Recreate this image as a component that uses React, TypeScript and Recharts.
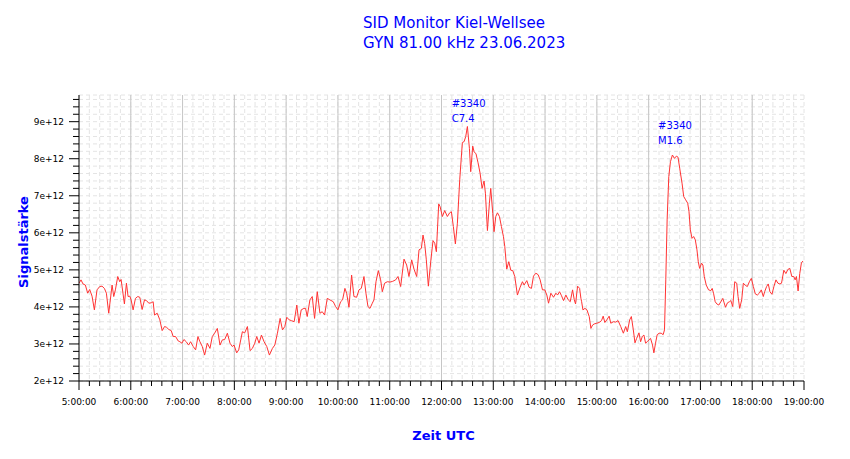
import React from 'react';
import {
  LineChart,
  Line,
  XAxis,
  YAxis,
  CartesianGrid,
  ReferenceLine,
  ReferenceDot,
  Customized,
} from 'recharts';

// time in decimal hours (UTC), signal strength in units of 1e12
const morning: [number, number][] = [
  [5.0, 4.64], [5.039, 4.73], [5.077, 4.62], [5.123, 4.59], [5.168, 4.37], [5.206, 4.47],
  [5.252, 4.29], [5.297, 3.92], [5.348, 4.46], [5.4, 4.55], [5.445, 4.56], [5.49, 4.5],
  [5.529, 4.37], [5.574, 3.83], [5.639, 4.59], [5.671, 4.28], [5.703, 4.46], [5.748, 4.82],
  [5.787, 4.68], [5.813, 4.74], [5.877, 4.08], [5.916, 4.64], [5.948, 4.28], [5.981, 4.29],
  [6.006, 4.19], [6.045, 3.92], [6.09, 4.23], [6.135, 4.28], [6.174, 4.26], [6.219, 3.93],
  [6.265, 4.19], [6.303, 4.17], [6.348, 4.1], [6.394, 4.11], [6.432, 4.14], [6.458, 3.78],
  [6.51, 3.83], [6.561, 3.65], [6.606, 3.36], [6.652, 3.47], [6.69, 3.45], [6.735, 3.39],
  [6.781, 3.36], [6.819, 3.2], [6.865, 3.2], [6.916, 3.08], [6.948, 3.06], [6.987, 3.02],
  [7.026, 3.12], [7.071, 3.06], [7.116, 2.97], [7.155, 3.06], [7.206, 2.93], [7.252, 2.84],
  [7.297, 3.2], [7.335, 3.06], [7.381, 2.93], [7.426, 2.7], [7.477, 3.02], [7.529, 2.88],
  [7.574, 3.2], [7.619, 3.29], [7.671, 3.42], [7.723, 2.97], [7.768, 3.11], [7.813, 3.12],
  [7.865, 3.29], [7.916, 3.02], [7.961, 2.93], [7.994, 2.97], [8.045, 2.76], [8.084, 2.84],
  [8.123, 3.11], [8.155, 3.33], [8.2, 3.3], [8.252, 3.47], [8.303, 2.82], [8.348, 2.88],
  [8.394, 3.02], [8.432, 3.2], [8.477, 3.02], [8.523, 3.24], [8.574, 3.06], [8.626, 2.93],
  [8.677, 2.7], [8.735, 2.88], [8.781, 2.97], [8.832, 3.29], [8.884, 3.69], [8.929, 3.38],
  [8.974, 3.47], [9.013, 3.72], [9.058, 3.65], [9.103, 3.63], [9.155, 3.6], [9.206, 4.05],
];

const midday: [number, number][] = [
  [9.246, 3.56], [9.291, 3.92], [9.343, 3.96], [9.375, 3.96], [9.407, 3.74], [9.459, 4.19],
  [9.504, 4.28], [9.549, 3.69], [9.601, 4.41], [9.652, 3.83], [9.697, 3.87], [9.742, 3.78],
  [9.794, 4.23], [9.845, 4.19], [9.91, 4.14], [9.955, 4.01], [10.0, 3.92], [10.052, 4.14],
  [10.09, 4.19], [10.135, 4.5], [10.168, 4.37], [10.213, 3.99], [10.264, 4.86], [10.309, 4.28],
  [10.361, 4.26], [10.406, 4.46], [10.451, 4.5], [10.503, 4.82], [10.541, 4.37], [10.58, 4.01],
  [10.619, 3.96], [10.664, 4.1], [10.696, 4.19], [10.735, 4.68], [10.78, 4.98], [10.825, 4.73],
  [10.857, 4.41], [10.902, 4.64], [10.954, 4.68], [11.005, 4.67], [11.057, 4.69], [11.115, 4.73],
  [11.16, 4.82], [11.211, 4.55], [11.276, 5.29], [11.327, 5.13], [11.372, 4.82], [11.424, 5.27],
  [11.469, 5.02], [11.521, 4.82], [11.566, 5.54], [11.611, 5.58], [11.643, 5.94], [11.675, 5.71],
  [11.707, 5.27], [11.746, 4.56], [11.791, 5.21], [11.836, 5.79], [11.869, 5.72], [11.901, 5.49],
  [11.946, 6.78], [11.972, 6.71], [12.017, 6.44], [12.062, 6.6], [12.113, 6.44], [12.158, 6.54],
  [12.191, 6.57], [12.229, 6.17], [12.268, 5.7], [12.307, 6.26], [12.352, 7.43], [12.403, 8.44],
  [12.436, 8.46], [12.468, 8.6], [12.5, 8.87], [12.539, 8.28], [12.564, 7.65], [12.603, 8.34],
  [12.629, 8.19], [12.667, 8.13], [12.706, 7.89], [12.745, 7.61], [12.784, 7.2], [12.822, 7.4],
  [12.848, 7.07], [12.887, 6.06], [12.925, 6.8], [12.951, 7.2], [12.99, 6.52], [13.015, 6.03],
  [13.048, 6.44], [13.08, 6.54], [13.119, 6.44], [13.157, 6.17], [13.196, 5.9], [13.222, 5.63],
  [13.26, 5.02], [13.299, 5.22], [13.338, 4.99], [13.376, 4.98], [13.415, 4.82], [13.466, 4.32],
  [13.518, 4.53], [13.563, 4.68], [13.595, 4.59], [13.647, 4.71], [13.692, 4.53], [13.737, 4.5],
  [13.776, 4.83], [13.822, 4.91], [13.866, 4.87], [13.905, 4.73], [13.95, 4.46], [13.995, 4.46],
  [14.034, 4.32], [14.067, 4.1], [14.112, 4.37], [14.163, 4.26], [14.209, 4.37], [14.241, 4.32],
  [14.28, 4.41], [14.318, 4.3], [14.357, 4.17], [14.402, 4.32], [14.448, 4.19], [14.486, 4.14],
  [14.531, 4.46], [14.564, 4.19], [14.589, 4.08], [14.628, 4.56], [14.667, 4.5], [14.692, 4.23],
];

const afternoon: [number, number][] = [
  [14.706, 4.14], [14.731, 3.92], [14.77, 3.96], [14.808, 3.92], [14.853, 3.74], [14.885, 3.42],
  [14.917, 3.51], [14.949, 3.54], [15.0, 3.56], [15.045, 3.58], [15.09, 3.63], [15.122, 3.75],
  [15.154, 3.58], [15.192, 3.65], [15.237, 3.75], [15.269, 3.56], [15.32, 3.6], [15.365, 3.59],
  [15.41, 3.63], [15.461, 3.47], [15.512, 3.29], [15.557, 3.47], [15.589, 3.33], [15.634, 3.65],
  [15.666, 3.74], [15.704, 3.38], [15.736, 3.03], [15.768, 3.15], [15.813, 3.3], [15.845, 3.06],
  [15.877, 3.2], [15.909, 3.24], [15.941, 3.02], [15.973, 3.06], [16.005, 3.11], [16.037, 3.15],
  [16.075, 2.97], [16.101, 2.76], [16.133, 3.02], [16.165, 3.25], [16.203, 3.29], [16.242, 3.29],
  [16.28, 3.25], [16.306, 3.38], [16.331, 4.73], [16.357, 6.35], [16.389, 7.52], [16.421, 7.92],
  [16.459, 8.1], [16.498, 8.01], [16.536, 8.07], [16.568, 8.04], [16.6, 7.74], [16.645, 7.34],
  [16.677, 6.98], [16.715, 6.89], [16.754, 6.8], [16.779, 6.58], [16.805, 6.08], [16.837, 5.85],
  [16.869, 5.9], [16.901, 5.81], [16.933, 5.54], [16.958, 5.22], [16.984, 5.04], [17.022, 5.18],
  [17.048, 5.13], [17.074, 4.82], [17.112, 4.59], [17.157, 4.46], [17.202, 4.44], [17.227, 4.5],
  [17.253, 4.37], [17.285, 4.14], [17.317, 4.08], [17.355, 4.05], [17.394, 4.14], [17.432, 4.23],
  [17.458, 4.11], [17.484, 3.99], [17.522, 4.11], [17.56, 4.14], [17.586, 4.17], [17.624, 4.01],
  [17.663, 4.68], [17.701, 4.64], [17.727, 4.28], [17.758, 3.96], [17.797, 4.19], [17.829, 4.64],
  [17.868, 4.58], [17.906, 4.55], [17.945, 4.68], [17.983, 4.77], [18.022, 4.55], [18.06, 4.35],
  [18.099, 4.32], [18.137, 4.37], [18.175, 4.46], [18.214, 4.28], [18.24, 4.41], [18.278, 4.55],
  [18.31, 4.62], [18.342, 4.41], [18.381, 4.34], [18.419, 4.55], [18.458, 4.73], [18.496, 4.64],
  [18.534, 4.62], [18.566, 4.64], [18.611, 4.99], [18.65, 4.9], [18.688, 5.01], [18.726, 5.04],
  [18.765, 4.82], [18.803, 4.82], [18.829, 4.73], [18.854, 4.82], [18.886, 4.43], [18.918, 4.9],
  [18.95, 5.19], [18.982, 5.24],
];

const hourTicks = [5, 6, 7, 8, 9, 10, 11, 12, 13, 14, 15, 16, 17, 18, 19];
const hourLabels = [
  '5:00:00', '6:00:00', '7:00:00', '8:00:00', '9:00:00', '10:00:00', '11:00:00', '12:00:00',
  '13:00:00', '14:00:00', '15:00:00', '16:00:00', '17:00:00', '18:00:00', '19:00:00',
];
const xTicks = [
  5, 5.2, 5.4, 5.6, 5.8, 6, 6.2, 6.4, 6.6, 6.8, 7, 7.2, 7.4, 7.6, 7.8, 8, 8.2, 8.4, 8.6, 8.8,
  9, 9.2, 9.4, 9.6, 9.8, 10, 10.2, 10.4, 10.6, 10.8, 11, 11.2, 11.4, 11.6, 11.8, 12, 12.2, 12.4,
  12.6, 12.8, 13, 13.2, 13.4, 13.6, 13.8, 14, 14.2, 14.4, 14.6, 14.8, 15, 15.2, 15.4, 15.6, 15.8,
  16, 16.2, 16.4, 16.6, 16.8, 17, 17.2, 17.4, 17.6, 17.8, 18, 18.2, 18.4, 18.6, 18.8, 19,
];
const yMajor = [2, 3, 4, 5, 6, 7, 8, 9];
const yLabels = ['2e+12', '3e+12', '4e+12', '5e+12', '6e+12', '7e+12', '8e+12', '9e+12'];
const yTicks = [
  2, 2.2, 2.4, 2.6, 2.8, 3, 3.2, 3.4, 3.6, 3.8, 4, 4.2, 4.4, 4.6, 4.8, 5, 5.2, 5.4, 5.6, 5.8,
  6, 6.2, 6.4, 6.6, 6.8, 7, 7.2, 7.4, 7.6, 7.8, 8, 8.2, 8.4, 8.6, 8.8, 9, 9.2, 9.4, 9.6,
];

const flares = [
  { t: 12.197, v: 9.39, lines: ['#3340', 'C7.4'] },
  { t: 16.183, v: 8.8, lines: ['#3340', 'M1.6'] },
];

const data = [...morning, ...midday, ...afternoon].map(([t, v]) => ({ t, v }));

const BLUE = '#0000ff';

const XTick = (props: any) => {
  const { x, y, payload } = props;
  const idx = hourTicks.indexOf(payload.value);
  const major = idx >= 0;
  return (
    <g>
      <line x1={x} x2={x} y1={y} y2={y + (major ? 9 : 5)} stroke="#000" strokeWidth={1} />
      {major && (
        <text
          x={x}
          y={y + 24}
          textAnchor="middle"
          fontFamily="DejaVu Sans"
          fontSize={9}
          fill="#000"
        >
          {hourLabels[idx]}
        </text>
      )}
    </g>
  );
};

const YTick = (props: any) => {
  const { x, y, payload } = props;
  const idx = yMajor.indexOf(payload.value);
  const major = idx >= 0;
  return (
    <g>
      <line x1={x - (major ? 10 : 6)} x2={x} y1={y} y2={y} stroke="#000" strokeWidth={1} />
      {major && (
        <text
          x={x - 15}
          y={y + 3.3}
          textAnchor="end"
          fontFamily="DejaVu Sans"
          fontSize={9}
          fill="#000"
        >
          {yLabels[idx]}
        </text>
      )}
    </g>
  );
};

const FlareLabel = (props: any) => {
  const { viewBox, lines } = props;
  const x = viewBox.x + (viewBox.width || 0) / 2;
  const y = viewBox.y + (viewBox.height || 0) / 2;
  return (
    <text x={x} y={y} fontFamily="DejaVu Sans" fontSize={10} fill={BLUE}>
      {lines.map((l: string, i: number) => (
        <tspan key={i} x={x} dy={i === 0 ? 0 : 14.7}>
          {l}
        </tspan>
      ))}
    </text>
  );
};

const Titles = () => (
  <g>
    <text x={363} y={28} fontFamily="DejaVu Sans" fontSize={15} fill={BLUE}>
      SID Monitor Kiel-Wellsee
    </text>
    <text x={363} y={48} fontFamily="DejaVu Sans" fontSize={15} fill={BLUE}>
      GYN 81.00 kHz 23.06.2023
    </text>
    <text
      transform="translate(27.7,242) rotate(-90)"
      textAnchor="middle"
      fontFamily="DejaVu Sans"
      fontWeight="bold"
      fontSize={13}
      fill={BLUE}
    >
      Signalstärke
    </text>
    <text
      x={443.5}
      y={440}
      textAnchor="middle"
      fontFamily="DejaVu Sans"
      fontWeight="bold"
      fontSize={13}
      fill={BLUE}
    >
      Zeit UTC
    </text>
  </g>
);

export default function App() {
  return (
    <div style={{ position: 'absolute', left: 0, top: 0, width: 850, height: 459, background: '#fff' }}>
      <LineChart
        width={850}
        height={459}
        data={data}
        margin={{ top: 95, right: 46, bottom: 0, left: 0 }}
      >
        <CartesianGrid stroke="#e4e4e4" strokeDasharray="4 3" />
        <XAxis
          dataKey="t"
          type="number"
          domain={[5, 19]}
          ticks={xTicks}
          interval={0}
          tickSize={0}
          tickMargin={0}
          tickLine={false}
          tick={<XTick />}
          axisLine={{ stroke: '#000' }}
          height={78}
          allowDataOverflow
        />
        <YAxis
          type="number"
          domain={[2, 9.72]}
          ticks={yTicks}
          interval={0}
          tickSize={0}
          tickMargin={0}
          tickLine={false}
          tick={<YTick />}
          axisLine={{ stroke: '#000' }}
          width={79}
          allowDataOverflow
        />
        {hourTicks
          .filter((h) => h > 5 && h < 19)
          .map((h) => (
            <ReferenceLine key={h} x={h} stroke="#c6c6c6" strokeWidth={1} />
          ))}
        <Line
          type="linear"
          dataKey="v"
          stroke="#ff3333"
          strokeWidth={1}
          dot={false}
          isAnimationActive={false}
        />
        {flares.map((f, i) => (
          <ReferenceDot
            key={i}
            x={f.t}
            y={f.v}
            r={0}
            fill="none"
            stroke="none"
            label={(p: any) => <FlareLabel {...p} lines={f.lines} />}
          />
        ))}
        <Customized component={Titles} />
      </LineChart>
    </div>
  );
}
